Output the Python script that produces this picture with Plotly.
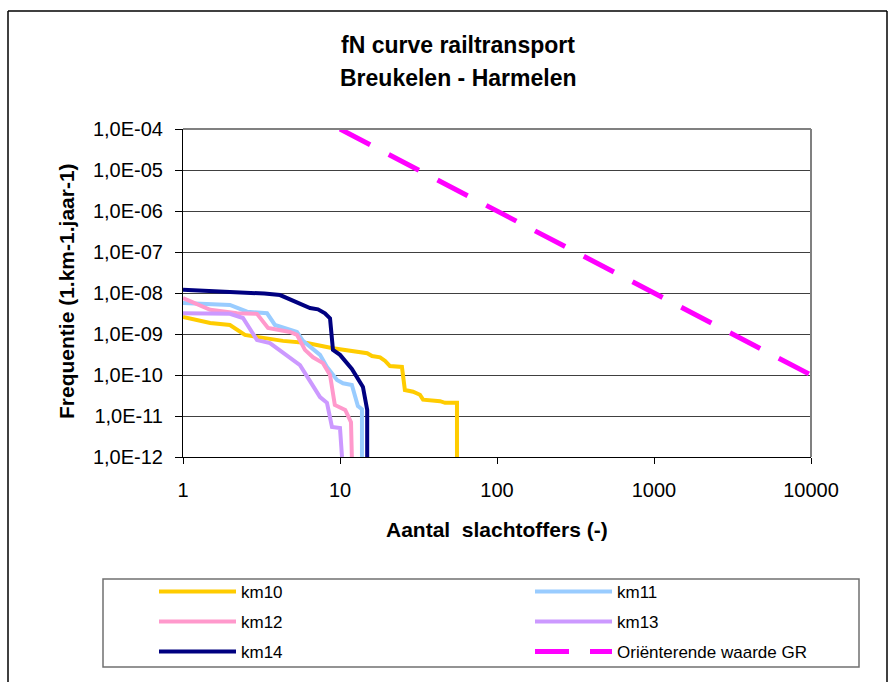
import plotly.graph_objects as go

# Number of victims (N) and cumulative frequency (per km per year) per track section
km10_n = [1, 1.49, 1.99, 2.48, 2.96, 4.33, 6.16, 8.26, 9.02, 14.9, 16.0, 18.0, 19.4, 20.8,
          24.8, 25.9, 29.2, 32.3, 33.8, 43.4, 46.7, 55.6, 55.6]
km10_f = [2.6e-9, 1.86e-9, 1.66e-9, 9.5e-10, 8.5e-10, 6.8e-10, 6.0e-10, 4.8e-10, 4.5e-10,
          3.4e-10, 2.9e-10, 2.7e-10, 2.2e-10, 1.65e-10, 1.57e-10, 4.3e-11, 3.9e-11, 3.3e-11,
          2.5e-11, 2.3e-11, 2.1e-11, 2.1e-11, 1e-12]

km11_n = [1, 1.99, 2.56, 3.43, 3.85, 5.32, 5.81, 7.46, 8.26, 9.57, 10.45, 11.9, 13.0, 13.8, 13.8]
km11_f = [5.7e-9, 5.1e-9, 3.5e-9, 3.2e-9, 1.66e-9, 1.12e-9, 6.8e-10, 3.1e-10, 1.57e-10,
          7.6e-11, 6.3e-11, 5.7e-11, 1.75e-11, 1.47e-11, 1e-12]

km12_n = [1, 1.49, 2.21, 2.96, 3.48, 4.80, 5.32, 5.98, 6.73, 7.79, 8.64, 9.27, 10.8, 11.75, 11.9]
km12_f = [7.5e-9, 3.9e-9, 3.2e-9, 3.1e-9, 1.41e-9, 1.12e-9, 9.5e-10, 4.1e-10, 2.7e-10,
          1.95e-10, 1.0e-10, 1.86e-11, 1.4e-11, 7.1e-12, 1e-12]

km13_n = [1, 1.99, 2.41, 2.96, 3.58, 4.27, 4.80, 5.56, 6.44, 7.46, 8.26, 8.89, 10.0, 10.3]
km13_f = [3.2e-9, 3.1e-9, 2.46e-9, 7.1e-10, 6.0e-10, 3.6e-10, 2.6e-10, 1.74e-10, 7.1e-11,
          2.9e-11, 2.1e-11, 5.4e-12, 5.1e-12, 1e-12]

km14_n = [1, 2, 3.3, 4.15, 4.95, 5.56, 6.44, 7.24, 8.02, 8.64, 9.02, 10.0, 11.9, 14.0, 14.9, 14.9]
km14_f = [1.2e-8, 1.08e-8, 9.7e-9, 8.9e-9, 6.8e-9, 5.4e-9, 4.3e-9, 4.0e-9, 3.2e-9, 2.4e-9,
          4.1e-10, 3.1e-10, 1.4e-10, 5.1e-11, 1.4e-11, 1e-12]

# Orienting value for the group risk (GR)
gr_n = [10, 10000]
gr_f = [1e-4, 1e-10]

x_ticks = [1, 10, 100, 1000, 10000]
x_labels = ["1", "10", "100", "1000", "10000"]
y_ticks = [1e-12, 1e-11, 1e-10, 1e-9, 1e-8, 1e-7, 1e-6, 1e-5, 1e-4]
y_labels = ["1,0E-12", "1,0E-11", "1,0E-10", "1,0E-09", "1,0E-08",
            "1,0E-07", "1,0E-06", "1,0E-05", "1,0E-04"]

W, H = 896, 682
L, R, T, B = 183, 85, 129, 225
PW, PH = W - L - R, H - T - B


def px(x):
    return (x - L) / PW


def py(y):
    return (H - B - y) / PH


FONT = "Liberation Sans, Arial, sans-serif"

series = [
    ("km10", km10_n, km10_f, "#FFCC00", "solid"),
    ("km11", km11_n, km11_f, "#99CCFF", "solid"),
    ("km12", km12_n, km12_f, "#FF99CC", "solid"),
    ("km13", km13_n, km13_f, "#CC99FF", "solid"),
    ("km14", km14_n, km14_f, "#000080", "solid"),
    ("Oriënterende waarde GR", gr_n, gr_f, "#FF00FF", "34px,21px"),
]

# legend slots: (left edge px, row centre px)
slots = [(154, 592), (530, 592), (154, 622), (530, 622), (154, 652), (530, 652)]

fig = go.Figure()
layout_legends = {}
for i, (name, n, f, color, dash) in enumerate(series):
    lg = "legend" if i == 0 else f"legend{i + 1}"
    fig.add_trace(go.Scatter(
        x=n, y=f, mode="lines", name=name, legend=lg,
        line=dict(color=color, width=5 if i == 5 else 4, dash=dash),
    ))
    sx, sy = slots[i]
    layout_legends[lg] = dict(
        x=px(sx), y=py(sy), xanchor="left", yanchor="middle",
        orientation="h", bgcolor="rgba(0,0,0,0)", borderwidth=0,
        itemwidth=77, font=dict(family=FONT, size=17, color="black"),
    )

fig.update_layout(
    width=W, height=H,
    margin=dict(l=L, r=R, t=T, b=B, autoexpand=False),
    paper_bgcolor="white", plot_bgcolor="white",
    font=dict(family=FONT, color="black"),
    showlegend=True,
    **layout_legends,
)

fig.update_xaxes(
    type="log", range=[0, 4], tickvals=x_ticks, ticktext=x_labels,
    showgrid=False, showline=True, linecolor="black", linewidth=1,
    ticks="outside", ticklen=6, tickcolor="black",
    tickfont=dict(family=FONT, size=20, color="black"), ticklabelstandoff=9,
)
fig.update_yaxes(
    type="log", range=[-12, -4], tickvals=y_ticks, ticktext=y_labels,
    showgrid=True, gridcolor="#404040", gridwidth=1,
    showline=True, linecolor="black", linewidth=1,
    ticks="outside", ticklen=7, tickcolor="black",
    tickfont=dict(family=FONT, size=20, color="black"), ticklabelstandoff=8,
)

ann = [
    dict(text="<b>fN curve railtransport</b>", x=px(458), y=py(45), size=23, angle=0),
    dict(text="<b>Breukelen - Harmelen</b>", x=px(458), y=py(78), size=23, angle=0),
    dict(text="<b>Aantal\u00a0 slachtoffers (-)</b>", x=0.5, y=py(529), size=21, angle=0),
    dict(text="<b>Frequentie (1.km-1.jaar-1)</b>", x=px(66), y=py(291), size=21, angle=-90),
]
for a in ann:
    fig.add_annotation(
        text=a["text"], x=a["x"], y=a["y"], xref="paper", yref="paper",
        xanchor="center", yanchor="middle", showarrow=False, textangle=a["angle"],
        font=dict(family=FONT, size=a["size"], color="black"),
    )

grey = "#808080"
shapes = [
    # plot area border (top and right)
    dict(type="line", x0=0, x1=1, y0=1, y1=1, line=dict(color=grey, width=2)),
    dict(type="line", x0=1, x1=1, y0=0, y1=1, line=dict(color=grey, width=2)),
    # legend box
    dict(type="rect", x0=px(103), x1=px(859), y0=py(579), y1=py(667),
         line=dict(color="#707070", width=1.5)),
    # chart frame
    dict(type="line", x0=px(8), x1=px(8), y0=py(11), y1=py(700), line=dict(color="black", width=1.5)),
    dict(type="line", x0=px(8), x1=px(887), y0=py(11), y1=py(11), line=dict(color="black", width=1.5)),
    dict(type="line", x0=px(887), x1=px(887), y0=py(11), y1=py(700), line=dict(color="black", width=1.5)),
]
for s in shapes:
    fig.add_shape(xref="paper", yref="paper", layer="above", **s)

fig.write_html("out.html")
